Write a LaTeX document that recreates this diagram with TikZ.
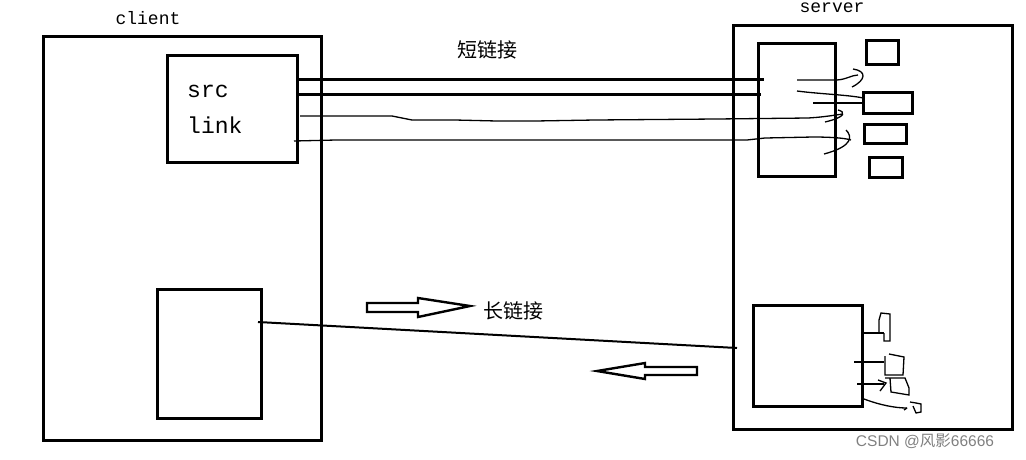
\documentclass[tikz,border=0pt]{standalone}
\usepackage{fontspec}
\setmainfont{Liberation Mono}
\newfontfamily\cjk{Noto Sans CJK SC}
\newfontfamily\wmfont{Liberation Sans}
\begin{document}
\begin{tikzpicture}[x=1pt,y=-1pt,
  box/.style={draw=black,line width=3pt,inner sep=0pt},
  thick line/.style={line width=3pt},
  thin line/.style={line width=1.3pt},
  lbl/.style={font=\fontsize{18}{18}\selectfont,inner sep=0pt},
  cjklbl/.style={font=\cjk\fontsize{20}{20}\selectfont,inner sep=0pt},
  hollow/.style={draw=black,line width=2.4pt,fill=white,line join=miter}
]
\useasboundingbox (0,0) rectangle (1026,459);
% client
\node[lbl] (clientlbl) at (148,18) {client};
\draw[box] (43,36) rectangle (321,440);
\draw[box] (167,55) rectangle (297,162);
\node[lbl,anchor=west,font=\fontsize{23}{23}\selectfont] (src) at (187,91) {src};
\node[lbl,anchor=west,font=\fontsize{23}{23}\selectfont] (link) at (187,125) {link};
\draw[box] (157,289) rectangle (261,418);
\coordinate (lowL) at (258,322);
% server
\node[lbl] (serverlbl) at (832,8) {server};
\draw[box] (733,25) rectangle (1012,429);
\draw[box] (758,43) rectangle (835,176);
\draw[box] (866,40) rectangle (898,64);
\draw[box] (863,92) rectangle (912,113);
\draw[box] (864,124) rectangle (906,143);
\draw[box] (869,157) rectangle (902,177);
\draw[box] (753,305) rectangle (862,406);
\coordinate (lowR) at (737,348);
% short links
\node[cjklbl] (short) at (487,50) {短链接};
\coordinate (s1a) at (297,79); \coordinate (s1b) at (764,79);
\coordinate (s2a) at (297,94); \coordinate (s2b) at (761,94);
\draw[thick line] (s1a) -- (s1b);
\draw[thick line] (s2a) -- (s2b);
\draw[thin line] (300,116) -- (392,116) -- (412,120) -- (455,120) -- (497,121) -- (535,121) -- (595,120) -- (716,119) -- (808,118) .. controls (825,117) and (835,115) .. (843,114);
\draw[thin line] (838,110) .. controls (846,112) and (846,117) .. (825,122);
\draw[thin line] (294,141) -- (336,140) -- (747,140) -- (765,138) -- (813,137) .. controls (830,137) and (845,138) .. (851,140);
\draw[thin line] (846,130) .. controls (852,136) and (854,146) .. (824,154);
% inner scribbles top
\draw[thin line] (797,80) -- (836,80) .. controls (845,80) and (852,75) .. (858,75);
\draw[thin line] (853,69) .. controls (867,71) and (866,80) .. (852,87);
\draw[thin line] (797,91) .. controls (820,94) and (850,95) .. (863,98);
\draw[thin line] (813,103) -- (863,103);
% lower scribbles
\draw[thin line] (862,333) -- (884,333);
\draw[thin line] (884,333) -- (884,341) -- (890,341) -- (890,314) -- (881,313) -- (879,320) -- (879,333);
\draw[thin line] (854,362) -- (884,362);
\draw[thin line] (885,356) -- (885,375) -- (903,375) -- (904,357) -- (889,354);
\draw[thin line] (857,384) -- (884,384);
\draw[thin line] (878,380) -- (886,383) -- (880,391);
\draw[thin line] (885,378) -- (905,378) -- (909,388) -- (909,395) -- (891,392) -- (890,378);
\draw[thin line] (864,399) .. controls (880,405) and (895,408) .. (907,408);
\draw[thin line] (910,402) -- (916,403) -- (921,404) -- (921,412) -- (916,413) -- (913,406);
\draw[thin line] (907,408) -- (904,410);
% long link
\draw[thin line,line width=2pt] (lowL) -- (lowR);
\node[cjklbl] (long) at (513,311) {长链接};
\draw[hollow] (367,303) -- (418,303) -- (418,298) -- (470,306) -- (418,317) -- (418,312) -- (367,312) -- cycle;
\draw[hollow] (697,367) -- (645,367) -- (645,363) -- (597,371) -- (645,379) -- (645,375) -- (697,375) -- cycle;
% watermark
\node[font=\wmfont\fontsize{15.5}{15.5}\selectfont,text=black!50,inner sep=0pt] (wm) at (925,441) {CSDN @\cjk 风影\wmfont 66666};
\end{tikzpicture}
\end{document}
